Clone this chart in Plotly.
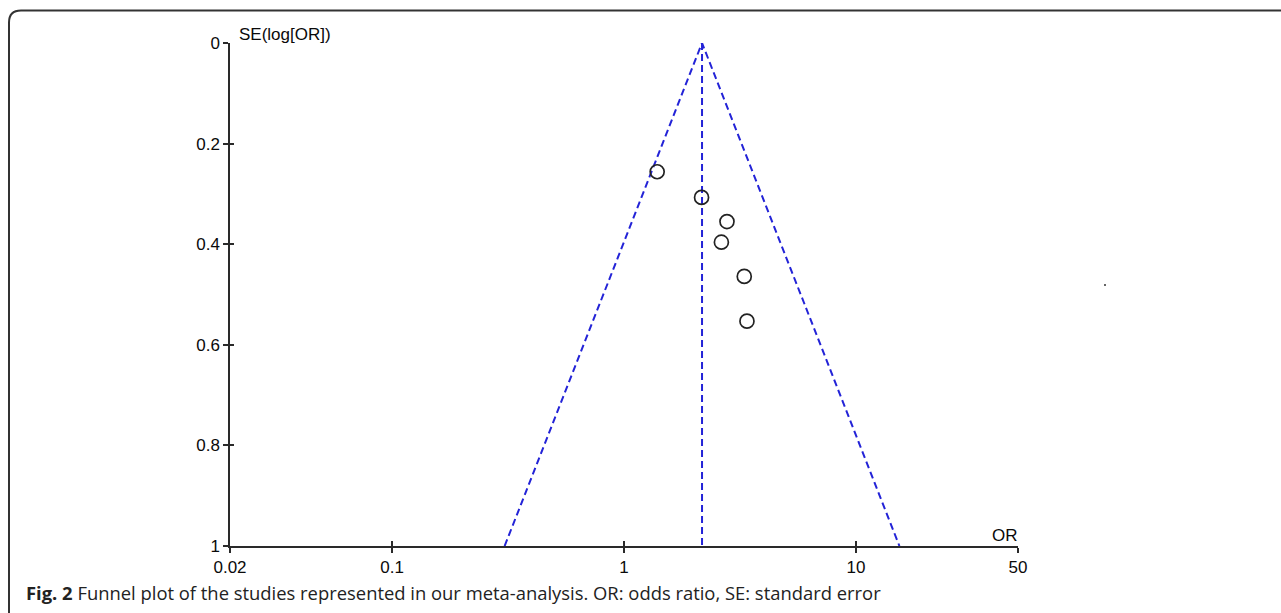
import math
import plotly.graph_objects as go

# ---- data ----
study_or = [1.39, 2.16, 2.78, 2.63, 3.30, 3.39]
study_se = [0.256, 0.307, 0.355, 0.396, 0.464, 0.553]
pooled_or = 2.17
se_range = [0.0, 1.0]
x_tickvals = [0.02, 0.1, 1, 10, 50]
x_ticktext = ["0.02", "0.1", "1", "10", "50"]
y_tickvals = [0, 0.2, 0.4, 0.6, 0.8, 1.0]
y_ticktext = ["0", "0.2", "0.4", "0.6", "0.8", "1"]
x_title = "OR"
y_title = "SE(log[OR])"
caption_bold = "Fig. 2"
caption_text = " Funnel plot of the studies represented in our meta-analysis. OR: odds ratio, SE: standard error"

W, H = 1281, 613
L, R, T, B = 230, 1018, 43, 546  # plot area in pixels


def px(xp):
    return (xp - L) / (R - L)


def py(yp):
    return (B - yp) / (B - T)


# funnel limits from pooled estimate
lp = math.log(pooled_or)
lo_or = math.exp(lp - 1.96 * se_range[1])
hi_or = math.exp(lp + 1.96 * se_range[1])

blue = "rgb(35,35,215)"
axc = "#2a2a2a"

fig = go.Figure()
fig.add_trace(go.Scatter(
    x=[lo_or, pooled_or, hi_or], y=[se_range[1], se_range[0], se_range[1]],
    mode="lines", line=dict(color=blue, width=2, dash="7px,4px"),
    hoverinfo="skip", showlegend=False))
fig.add_trace(go.Scatter(
    x=[pooled_or, pooled_or], y=se_range,
    mode="lines", line=dict(color=blue, width=2, dash="7px,4px"),
    hoverinfo="skip", showlegend=False))
fig.add_trace(go.Scatter(
    x=study_or, y=study_se, mode="markers",
    marker=dict(symbol="circle-open", size=14, color="#222",
                line=dict(width=1.7, color="#222")),
    showlegend=False))
# invisible trace for the inside-tick overlay axes
fig.add_trace(go.Scatter(x=[1], y=[0.5], xaxis="x2", yaxis="y2",
                         mode="markers", marker=dict(opacity=0),
                         hoverinfo="skip", showlegend=False))

xr = [math.log10(x_tickvals[0]), math.log10(x_tickvals[-1])]
font_axis = dict(family="Liberation Sans", size=17, color="#0a0a0a")

fig.update_layout(
    width=W, height=H,
    margin=dict(l=L, r=W - R, t=T, b=H - B, pad=0),
    paper_bgcolor="white", plot_bgcolor="white",
    xaxis=dict(type="log", range=xr, tickvals=x_tickvals, ticktext=x_ticktext,
               showgrid=False, zeroline=False, showline=True, linecolor=axc,
               linewidth=1.5, ticks="outside", ticklen=5, tickwidth=1.5,
               tickcolor=axc, tickfont=font_axis, ticklabelstandoff=0),
    yaxis=dict(range=[1, 0], tickvals=y_tickvals, ticktext=y_ticktext,
               showgrid=False, zeroline=False, showline=True, linecolor=axc,
               linewidth=1.5, ticks="outside", ticklen=5, tickwidth=1.5,
               tickcolor=axc, tickfont=font_axis, ticklabelstandoff=0),
    xaxis2=dict(type="log", range=xr, tickvals=x_tickvals, overlaying="x",
                anchor="y2", side="bottom", showticklabels=False, showgrid=False,
                zeroline=False, showline=False, ticks="inside", ticklen=5,
                tickwidth=1.5, tickcolor=axc),
    yaxis2=dict(range=[1, 0], tickvals=y_tickvals, overlaying="y",
                anchor="x2", side="left", showticklabels=False, showgrid=False,
                zeroline=False, showline=False, ticks="inside", ticklen=4,
                tickwidth=1.5, tickcolor=axc),
    showlegend=False,
)

# axis titles
fig.add_annotation(text=y_title, xref="paper", yref="paper", x=px(237), y=py(34),
                   xanchor="left", yanchor="middle", showarrow=False,
                   font=dict(family="Liberation Sans", size=17, color="#0a0a0a"))
fig.add_annotation(text=x_title, xref="paper", yref="paper", x=px(1005), y=py(535),
                   xanchor="center", yanchor="middle", showarrow=False,
                   font=dict(family="Liberation Sans", size=17, color="#0a0a0a"))
# caption
fig.add_annotation(text="<b>" + caption_bold + "</b>" + caption_text,
                   xref="paper", yref="paper", x=px(24), y=py(592),
                   xanchor="left", yanchor="middle", showarrow=False,
                   font=dict(family="Open Sans", size=18.4, color="#222"))

# rounded frame (top-left corner visible)
r = 12
x0, y0 = 9, 10.5
path = (f"M {px(x0)},{py(630)} L {px(x0)},{py(y0 + r)} "
        f"Q {px(x0)},{py(y0)} {px(x0 + r)},{py(y0)} L {px(1300)},{py(y0)}")
fig.add_shape(type="path", xref="paper", yref="paper", path=path,
              line=dict(color="#333", width=2))
# small speck present in the reference
fig.add_shape(type="rect", xref="paper", yref="paper",
              x0=px(1104), x1=px(1106), y0=py(286), y1=py(284),
              line=dict(width=0), fillcolor="#666")

fig.write_html("out.html", post_script="document.body.style.margin='0';",
               config={"displayModeBar": False})
